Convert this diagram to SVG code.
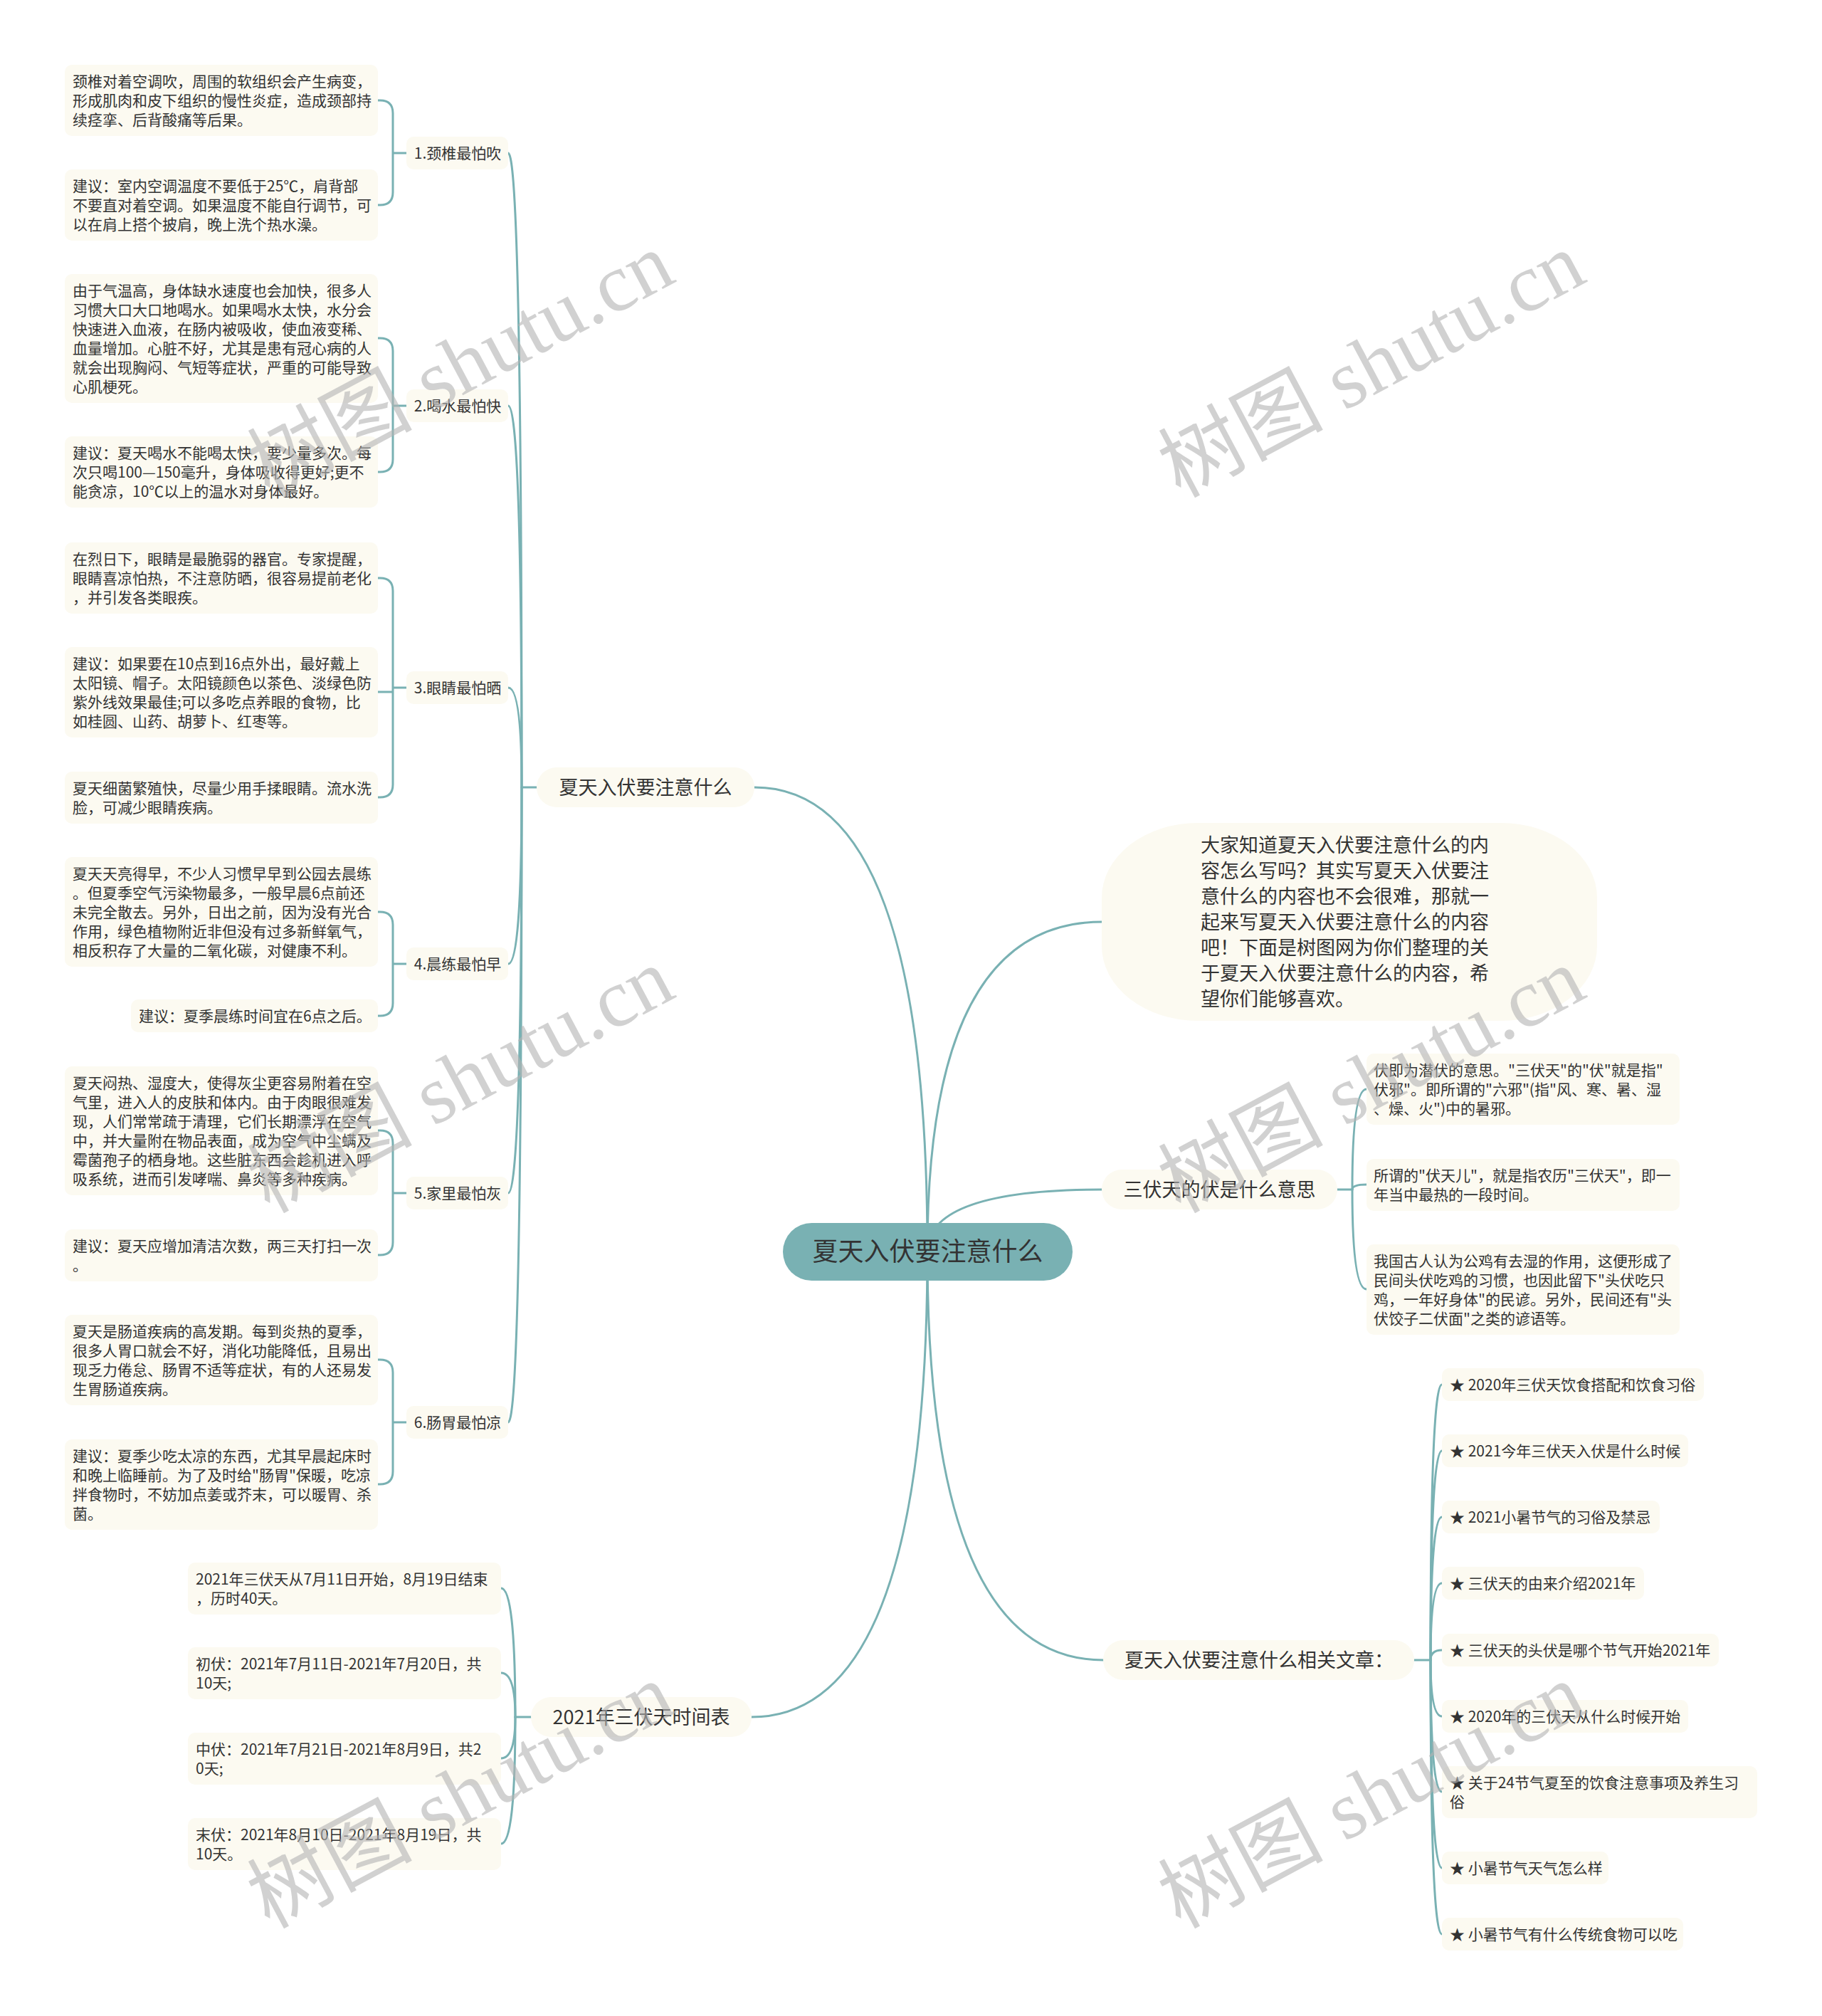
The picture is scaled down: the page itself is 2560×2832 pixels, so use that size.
<svg xmlns="http://www.w3.org/2000/svg" width="2560" height="2832" viewBox="0 0 2560 2832">
<style>
.bg{fill:#ffffff}
.leaf{fill:#FCFAF1}
.main{fill:#FCFAF1}
.root{fill:#79B1B3}
.t{font-family:"Noto Sans CJK SC","Noto Sans",sans-serif;fill:#333333}
.lt{font-size:21px}
.mt{font-size:27px}
.rt{font-size:36px}
.it{font-size:27px}
.conn{fill:none;stroke:#79B1B3;stroke-width:3;stroke-linecap:round;stroke-linejoin:round}
.wm{font-family:"Liberation Serif","Noto Sans CJK SC",serif;font-size:116px;fill:#b4b4b4;opacity:0.6}
</style>
<rect class="bg" x="0" y="0" width="2560" height="2832"/>

<g id="connectors">
  <path class="conn" d="M1303 1758 Q1303 1106 1060 1106"/>
  <path class="conn" d="M1303 1758 Q1303 2412 1056 2412"/>
  <path class="conn" d="M1303 1758 Q1303 1295 1548 1295"/>
  <path class="conn" d="M1303 1758 Q1303 1671 1548 1671"/>
  <path class="conn" d="M1303 1758 Q1303 2332 1550 2332"/>
  <path class="conn" d="M754 1106 H733"/>
  <path class="conn" d="M733 1106 Q733 215 714 215"/>
  <path class="conn" d="M733 1106 Q733 570 714 570"/>
  <path class="conn" d="M733 1106 Q733 966 714 966"/>
  <path class="conn" d="M733 1106 Q733 1354 714 1354"/>
  <path class="conn" d="M733 1106 Q733 1676 714 1676"/>
  <path class="conn" d="M733 1106 Q733 1998 714 1998"/>
  <path class="conn" d="M571 215 H552 M552 215 V159 Q552 141 534 141 H531 M552 215 V270 Q552 288 534 288 H531"/>
  <path class="conn" d="M571 570 H552 M552 570 V493 Q552 475 534 475 H531 M552 570 V645 Q552 663 534 663 H531"/>
  <path class="conn" d="M571 966 H552 M552 966 V830 Q552 812 534 812 H531 M552 966 V972 H531 M552 972 V1102 Q552 1120 534 1120 H531"/>
  <path class="conn" d="M571 1354 H552 M552 1354 V1299 Q552 1281 534 1281 H531 M552 1354 V1409 Q552 1427 534 1427 H531"/>
  <path class="conn" d="M571 1676 H552 M552 1676 V1606 Q552 1588 534 1588 H531 M552 1676 V1745 Q552 1763 534 1763 H531"/>
  <path class="conn" d="M571 1998 H552 M552 1998 V1928 Q552 1910 534 1910 H531 M552 1998 V2067 Q552 2085 534 2085 H531"/>
  <path class="conn" d="M746 2412 H724"/>
  <path class="conn" d="M724 2412 Q724 2231 704 2231"/>
  <path class="conn" d="M724 2412 Q724 2350 704 2350"/>
  <path class="conn" d="M724 2412 Q724 2470 704 2470"/>
  <path class="conn" d="M724 2412 Q724 2590 704 2590"/>
  <path class="conn" d="M1879 1671 H1900"/>
  <path class="conn" d="M1900 1671 Q1900 1530 1920 1530"/>
  <path class="conn" d="M1900 1671 Q1900 1664 1920 1664"/>
  <path class="conn" d="M1900 1671 Q1900 1811 1920 1811"/>
  <path class="conn" d="M1987 2332 H2010"/>
  <path class="conn" d="M2010 2332 Q2010 1945 2026 1945"/>
  <path class="conn" d="M2010 2332 Q2010 2038 2026 2038"/>
  <path class="conn" d="M2010 2332 Q2010 2131 2026 2131"/>
  <path class="conn" d="M2010 2332 Q2010 2224 2026 2224"/>
  <path class="conn" d="M2010 2332 Q2010 2318 2026 2318"/>
  <path class="conn" d="M2010 2332 Q2010 2411 2026 2411"/>
  <path class="conn" d="M2010 2332 Q2010 2517 2026 2517"/>
  <path class="conn" d="M2010 2332 Q2010 2624 2026 2624"/>
  <path class="conn" d="M2010 2332 Q2010 2717 2026 2717"/>
</g>

<g id="root">
  <rect class="root" x="1100" y="1718" width="407" height="81" rx="40.5"/>
  <text class="t rt" x="1303.5" y="1771" text-anchor="middle">夏天入伏要注意什么</text>
</g>

<g id="intro">
  <rect class="main" x="1548" y="1156" width="696" height="278" rx="135" ry="105"/>
  <text class="t it" x="1687" y="1197">大家知道夏天入伏要注意什么的内</text>
  <text class="t it" x="1687" y="1233">容怎么写吗？其实写夏天入伏要注</text>
  <text class="t it" x="1687" y="1269">意什么的内容也不会很难，那就一</text>
  <text class="t it" x="1687" y="1305">起来写夏天入伏要注意什么的内容</text>
  <text class="t it" x="1687" y="1341">吧！下面是树图网为你们整理的关</text>
  <text class="t it" x="1687" y="1377">于夏天入伏要注意什么的内容，希</text>
  <text class="t it" x="1687" y="1413">望你们能够喜欢。</text>
</g>

<g id="branch-left">
  <rect class="main" x="754" y="1078" width="306" height="56" rx="28"/>
  <text class="t mt" x="907" y="1115.5" text-anchor="middle">夏天入伏要注意什么</text>
</g>

<g id="sub1">
  <rect class="leaf" x="571" y="192" width="143" height="46" rx="10"/>
  <text class="t lt" x="643" y="222.5" text-anchor="middle">1.颈椎最怕吹</text>
</g>
<g id="sub2">
  <rect class="leaf" x="571" y="547" width="143" height="46" rx="10"/>
  <text class="t lt" x="643" y="577.5" text-anchor="middle">2.喝水最怕快</text>
</g>
<g id="sub3">
  <rect class="leaf" x="571" y="943" width="143" height="46" rx="10"/>
  <text class="t lt" x="643" y="973.5" text-anchor="middle">3.眼睛最怕晒</text>
</g>
<g id="sub4">
  <rect class="leaf" x="571" y="1331" width="143" height="46" rx="10"/>
  <text class="t lt" x="643" y="1361.5" text-anchor="middle">4.晨练最怕早</text>
</g>
<g id="sub5">
  <rect class="leaf" x="571" y="1653" width="143" height="46" rx="10"/>
  <text class="t lt" x="643" y="1683.5" text-anchor="middle">5.家里最怕灰</text>
</g>
<g id="sub6">
  <rect class="leaf" x="571" y="1975" width="143" height="46" rx="10"/>
  <text class="t lt" x="643" y="2005.5" text-anchor="middle">6.肠胃最怕凉</text>
</g>

<g id="leaf1a">
  <rect class="leaf" x="91" y="91" width="440" height="100" rx="10"/>
  <text class="t lt" x="102" y="122">颈椎对着空调吹，周围的软组织会产生病变，</text>
  <text class="t lt" x="102" y="149">形成肌肉和皮下组织的慢性炎症，造成颈部持</text>
  <text class="t lt" x="102" y="176">续痉挛、后背酸痛等后果。</text>
</g>
<g id="leaf1b">
  <rect class="leaf" x="91" y="238" width="440" height="100" rx="10"/>
  <text class="t lt" x="102" y="269">建议：室内空调温度不要低于25℃，肩背部</text>
  <text class="t lt" x="102" y="296">不要直对着空调。如果温度不能自行调节，可</text>
  <text class="t lt" x="102" y="323">以在肩上搭个披肩，晚上洗个热水澡。</text>
</g>
<g id="leaf2a">
  <rect class="leaf" x="91" y="385" width="440" height="181" rx="10"/>
  <text class="t lt" x="102" y="416">由于气温高，身体缺水速度也会加快，很多人</text>
  <text class="t lt" x="102" y="443">习惯大口大口地喝水。如果喝水太快，水分会</text>
  <text class="t lt" x="102" y="470">快速进入血液，在肠内被吸收，使血液变稀、</text>
  <text class="t lt" x="102" y="497">血量增加。心脏不好，尤其是患有冠心病的人</text>
  <text class="t lt" x="102" y="524">就会出现胸闷、气短等症状，严重的可能导致</text>
  <text class="t lt" x="102" y="551">心肌梗死。</text>
</g>
<g id="leaf2b">
  <rect class="leaf" x="91" y="613" width="440" height="100" rx="10"/>
  <text class="t lt" x="102" y="644">建议：夏天喝水不能喝太快，要少量多次。每</text>
  <text class="t lt" x="102" y="671">次只喝100—150毫升，身体吸收得更好;更不</text>
  <text class="t lt" x="102" y="698">能贪凉，10℃以上的温水对身体最好。</text>
</g>
<g id="leaf3a">
  <rect class="leaf" x="91" y="762" width="440" height="100" rx="10"/>
  <text class="t lt" x="102" y="793">在烈日下，眼睛是最脆弱的器官。专家提醒，</text>
  <text class="t lt" x="102" y="820">眼睛喜凉怕热，不注意防晒，很容易提前老化</text>
  <text class="t lt" x="102" y="847">，并引发各类眼疾。</text>
</g>
<g id="leaf3b">
  <rect class="leaf" x="91" y="909" width="440" height="127" rx="10"/>
  <text class="t lt" x="102" y="940">建议：如果要在10点到16点外出，最好戴上</text>
  <text class="t lt" x="102" y="967">太阳镜、帽子。太阳镜颜色以茶色、淡绿色防</text>
  <text class="t lt" x="102" y="994">紫外线效果最佳;可以多吃点养眼的食物，比</text>
  <text class="t lt" x="102" y="1021">如桂圆、山药、胡萝卜、红枣等。</text>
</g>
<g id="leaf3c">
  <rect class="leaf" x="91" y="1084" width="440" height="73" rx="10"/>
  <text class="t lt" x="102" y="1115">夏天细菌繁殖快，尽量少用手揉眼睛。流水洗</text>
  <text class="t lt" x="102" y="1142">脸，可减少眼睛疾病。</text>
</g>
<g id="leaf4a">
  <rect class="leaf" x="91" y="1204" width="440" height="154" rx="10"/>
  <text class="t lt" x="102" y="1235">夏天天亮得早，不少人习惯早早到公园去晨练</text>
  <text class="t lt" x="102" y="1262">。但夏季空气污染物最多，一般早晨6点前还</text>
  <text class="t lt" x="102" y="1289">未完全散去。另外，日出之前，因为没有光合</text>
  <text class="t lt" x="102" y="1316">作用，绿色植物附近非但没有过多新鲜氧气，</text>
  <text class="t lt" x="102" y="1343">相反积存了大量的二氧化碳，对健康不利。</text>
</g>
<g id="leaf4b">
  <rect class="leaf" x="184" y="1404" width="347" height="46" rx="10"/>
  <text class="t lt" x="195" y="1435">建议：夏季晨练时间宜在6点之后。</text>
</g>
<g id="leaf5a">
  <rect class="leaf" x="91" y="1498" width="440" height="181" rx="10"/>
  <text class="t lt" x="102" y="1529">夏天闷热、湿度大，使得灰尘更容易附着在空</text>
  <text class="t lt" x="102" y="1556">气里，进入人的皮肤和体内。由于肉眼很难发</text>
  <text class="t lt" x="102" y="1583">现，人们常常疏于清理，它们长期漂浮在空气</text>
  <text class="t lt" x="102" y="1610">中，并大量附在物品表面，成为空气中尘螨及</text>
  <text class="t lt" x="102" y="1637">霉菌孢子的栖身地。这些脏东西会趁机进入呼</text>
  <text class="t lt" x="102" y="1664">吸系统，进而引发哮喘、鼻炎等多种疾病。</text>
</g>
<g id="leaf5b">
  <rect class="leaf" x="91" y="1727" width="440" height="73" rx="10"/>
  <text class="t lt" x="102" y="1758">建议：夏天应增加清洁次数，两三天打扫一次</text>
  <text class="t lt" x="102" y="1785">。</text>
</g>
<g id="leaf6a">
  <rect class="leaf" x="91" y="1847" width="440" height="127" rx="10"/>
  <text class="t lt" x="102" y="1878">夏天是肠道疾病的高发期。每到炎热的夏季，</text>
  <text class="t lt" x="102" y="1905">很多人胃口就会不好，消化功能降低，且易出</text>
  <text class="t lt" x="102" y="1932">现乏力倦怠、肠胃不适等症状，有的人还易发</text>
  <text class="t lt" x="102" y="1959">生胃肠道疾病。</text>
</g>
<g id="leaf6b">
  <rect class="leaf" x="91" y="2022" width="440" height="127" rx="10"/>
  <text class="t lt" x="102" y="2053">建议：夏季少吃太凉的东西，尤其早晨起床时</text>
  <text class="t lt" x="102" y="2080">和晚上临睡前。为了及时给"肠胃"保暖，吃凉</text>
  <text class="t lt" x="102" y="2107">拌食物时，不妨加点姜或芥末，可以暖胃、杀</text>
  <text class="t lt" x="102" y="2134">菌。</text>
</g>

<g id="branch-2021">
  <rect class="main" x="746" y="2384" width="310" height="56" rx="28"/>
  <text class="t mt" x="901" y="2421.5" text-anchor="middle">2021年三伏天时间表</text>
</g>
<g id="t1">
  <rect class="leaf" x="264" y="2195" width="440" height="73" rx="10"/>
  <text class="t lt" x="275" y="2226">2021年三伏天从7月11日开始，8月19日结束</text>
  <text class="t lt" x="275" y="2253">，历时40天。</text>
</g>
<g id="t2">
  <rect class="leaf" x="264" y="2314" width="440" height="73" rx="10"/>
  <text class="t lt" x="275" y="2345">初伏：2021年7月11日-2021年7月20日，共</text>
  <text class="t lt" x="275" y="2372">10天;</text>
</g>
<g id="t3">
  <rect class="leaf" x="264" y="2434" width="440" height="73" rx="10"/>
  <text class="t lt" x="275" y="2465">中伏：2021年7月21日-2021年8月9日，共2</text>
  <text class="t lt" x="275" y="2492">0天;</text>
</g>
<g id="t4">
  <rect class="leaf" x="264" y="2554" width="440" height="73" rx="10"/>
  <text class="t lt" x="275" y="2585">末伏：2021年8月10日-2021年8月19日，共</text>
  <text class="t lt" x="275" y="2612">10天。</text>
</g>

<g id="branch-sanfu">
  <rect class="main" x="1548" y="1643" width="331" height="56" rx="28"/>
  <text class="t mt" x="1713.5" y="1680.5" text-anchor="middle">三伏天的伏是什么意思</text>
</g>
<g id="r1">
  <rect class="leaf" x="1920" y="1480" width="440" height="100" rx="10"/>
  <text class="t lt" x="1930" y="1511">伏即为潜伏的意思。"三伏天"的"伏"就是指"</text>
  <text class="t lt" x="1930" y="1538">伏邪"。即所谓的"六邪"(指"风、寒、暑、湿</text>
  <text class="t lt" x="1930" y="1565">、燥、火")中的暑邪。</text>
</g>
<g id="r2">
  <rect class="leaf" x="1920" y="1628" width="440" height="73" rx="10"/>
  <text class="t lt" x="1930" y="1659">所谓的"伏天儿"，就是指农历"三伏天"，即一</text>
  <text class="t lt" x="1930" y="1686">年当中最热的一段时间。</text>
</g>
<g id="r3">
  <rect class="leaf" x="1920" y="1748" width="440" height="127" rx="10"/>
  <text class="t lt" x="1930" y="1779">我国古人认为公鸡有去湿的作用，这便形成了</text>
  <text class="t lt" x="1930" y="1806">民间头伏吃鸡的习惯，也因此留下"头伏吃只</text>
  <text class="t lt" x="1930" y="1833">鸡，一年好身体"的民谚。另外，民间还有"头</text>
  <text class="t lt" x="1930" y="1860">伏饺子二伏面"之类的谚语等。</text>
</g>

<g id="branch-related">
  <rect class="main" x="1550" y="2304" width="437" height="56" rx="28"/>
  <text class="t mt" x="1580" y="2341.5">夏天入伏要注意什么相关文章：</text>
</g>
<g id="a1">
  <rect class="leaf" x="2026" y="1922" width="368" height="46" rx="10"/>
  <text class="t lt" x="2037" y="1953">★ 2020年三伏天饮食搭配和饮食习俗</text>
</g>
<g id="a2">
  <rect class="leaf" x="2026" y="2015" width="346" height="46" rx="10"/>
  <text class="t lt" x="2037" y="2046">★ 2021今年三伏天入伏是什么时候</text>
</g>
<g id="a3">
  <rect class="leaf" x="2026" y="2108" width="306" height="46" rx="10"/>
  <text class="t lt" x="2037" y="2139">★ 2021小暑节气的习俗及禁忌</text>
</g>
<g id="a4">
  <rect class="leaf" x="2026" y="2201" width="284" height="46" rx="10"/>
  <text class="t lt" x="2037" y="2232">★ 三伏天的由来介绍2021年</text>
</g>
<g id="a5">
  <rect class="leaf" x="2026" y="2295" width="389" height="46" rx="10"/>
  <text class="t lt" x="2037" y="2326">★ 三伏天的头伏是哪个节气开始2021年</text>
</g>
<g id="a6">
  <rect class="leaf" x="2026" y="2388" width="346" height="46" rx="10"/>
  <text class="t lt" x="2037" y="2419">★ 2020年的三伏天从什么时候开始</text>
</g>
<g id="a7">
  <rect class="leaf" x="2026" y="2481" width="443" height="73" rx="10"/>
  <text class="t lt" x="2037" y="2512">★ 关于24节气夏至的饮食注意事项及养生习</text>
  <text class="t lt" x="2037" y="2539">俗</text>
</g>
<g id="a8">
  <rect class="leaf" x="2026" y="2601" width="234" height="46" rx="10"/>
  <text class="t lt" x="2037" y="2632">★ 小暑节气天气怎么样</text>
</g>
<g id="a9">
  <rect class="leaf" x="2026" y="2694" width="339" height="46" rx="10"/>
  <text class="t lt" x="2037" y="2725">★ 小暑节气有什么传统食物可以吃</text>
</g>

<g id="watermarks">
  <text class="wm" transform="translate(378 700) rotate(-28)">树图 shutu.cn</text>
  <text class="wm" transform="translate(1658 700) rotate(-28)">树图 shutu.cn</text>
  <text class="wm" transform="translate(378 1705) rotate(-28)">树图 shutu.cn</text>
  <text class="wm" transform="translate(1658 1705) rotate(-28)">树图 shutu.cn</text>
  <text class="wm" transform="translate(378 2710) rotate(-28)">树图 shutu.cn</text>
  <text class="wm" transform="translate(1658 2710) rotate(-28)">树图 shutu.cn</text>
</g>
</svg>
